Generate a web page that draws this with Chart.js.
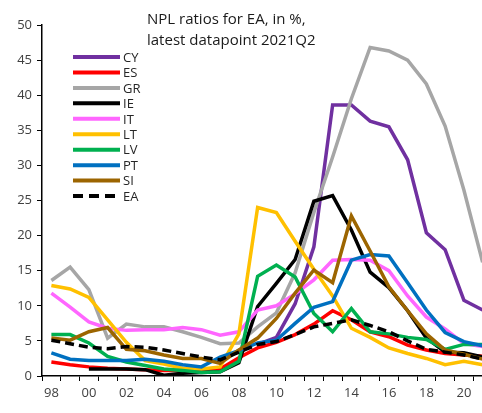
<!DOCTYPE html>
<html>
<head>
<meta charset="utf-8">
<script src="https://cdn.jsdelivr.net/npm/chart.js@4/dist/chart.umd.min.js"></script>
<style>
  html, body { margin: 0; padding: 0; background: #fff; }
  #wrap { position: relative; width: 482px; height: 413px; overflow: hidden; }
  #npl { display: block; }
</style>
</head>
<body>
<div id="wrap"><canvas id="npl" width="492" height="413"></canvas></div>
<script>
// Years 1998..2021, labels shown every other year
const years = ['98','99','00','01','02','03','04','05','06','07','08','09','10','11','12','13','14','15','16','17','18','19','20','21'];
const yTicks = [0, 5, 10, 15, 20, 25, 30, 35, 40, 45, 50];

const cy = [null,null,null,null,null,null,null,null,null,null,null,4.5,5.5,10.3,18.4,38.6,38.6,36.3,35.5,30.8,20.4,18.0,10.8,9.4];
const es = [2.0,1.6,1.3,1.1,1.0,0.9,0.8,0.8,0.8,1.0,2.6,4.0,4.8,5.9,7.4,9.3,8.0,6.3,5.6,4.4,3.7,3.2,3.0,2.8];
const gr = [13.6,15.5,12.3,5.4,7.4,7.0,7.0,6.3,5.5,4.6,4.7,7.0,9.0,14.7,23.3,31.2,39.5,46.8,46.3,45.0,41.6,35.6,26.5,16.2];
const ie = [null,null,1.0,1.0,1.0,0.9,0.1,0.4,0.5,0.6,1.9,9.9,13.2,16.6,24.9,25.7,20.8,14.8,12.6,9.3,5.4,3.4,3.3,2.7];
const it = [11.8,9.8,7.7,6.8,6.5,6.6,6.6,6.9,6.6,5.8,6.3,9.4,10.0,11.7,13.7,16.5,16.6,16.5,15.0,11.4,8.4,6.7,4.6,4.2];
const lt = [12.9,12.4,11.2,8.0,4.8,2.2,1.7,1.1,1.0,1.3,6.0,24.0,23.3,19.2,15.2,11.4,6.8,5.5,4.0,3.2,2.5,1.6,2.1,1.6];
const lv = [5.9,5.9,4.7,2.8,2.0,1.5,1.0,0.8,0.5,0.6,2.1,14.2,15.8,14.1,8.9,6.3,9.6,6.3,6.0,5.5,5.2,3.8,4.5,4.5];
const pt = [3.3,2.4,2.2,2.2,2.2,2.4,2.1,1.6,1.3,2.7,3.6,4.7,5.1,7.5,9.8,10.6,16.5,17.3,17.1,13.3,9.4,6.2,4.9,4.3];
const si = [5.4,5.1,6.3,6.9,3.8,3.6,3.0,2.5,2.5,1.8,3.7,5.4,8.2,11.8,15.1,13.3,22.8,17.8,12.7,9.3,6.0,3.7,3.1,2.4];
const ea = [5.1,4.6,4.1,3.9,4.2,4.1,3.7,3.2,2.7,2.3,3.4,4.5,4.9,5.9,7.0,7.5,8.0,7.2,6.3,5.0,3.8,3.4,3.0,2.4];

const seriesNames = ['CY','ES','GR','IE','IT','LT','LV','PT','SI','EA'];
const seriesData = [cy, es, gr, ie, it, lt, lv, pt, si, ea];
const seriesColors = ['#7030A0','#FF0000','#A6A6A6','#000000','#FF66FF','#FFC000','#00B050','#0070C0','#9C6500','#000000'];

const titleLines = ['NPL ratios for EA, in %,', 'latest datapoint 2021Q2'];
const FONT = "'Open Sans', sans-serif";

// later series painted on top, like the spreadsheet original
const datasets = seriesNames.map((name, i) => ({
    label: name,
    data: seriesData[i],
    borderColor: seriesColors[i],
    backgroundColor: seriesColors[i],
    borderWidth: 3.5,
    borderDash: name === 'EA' ? [9, 5] : [],
    pointRadius: 0,
    tension: 0,
    spanGaps: false,
    order: seriesNames.length - i
}));

// title and legend sit inside the plot area
const overlay = {
    id: 'overlay',
    afterDraw(chart) {
        const ctx = chart.ctx;
        ctx.save();
        ctx.fillStyle = '#1a1a1a';
        ctx.textBaseline = 'middle';
        ctx.textAlign = 'left';
        ctx.font = '15px ' + FONT;
        titleLines.forEach((t, i) => ctx.fillText(t, 147, 20 + i * 21));

        ctx.font = '13px ' + FONT;
        chart.data.datasets.forEach((ds, i) => {
            const y = 57 + i * 15.45;
            ctx.beginPath();
            ctx.strokeStyle = ds.borderColor;
            ctx.lineWidth = 4;
            ctx.setLineDash(ds.label === 'EA' ? [10, 6] : []);
            ctx.moveTo(73, y);
            ctx.lineTo(120, y);
            ctx.stroke();
            ctx.fillStyle = '#262626';
            ctx.fillText(ds.label, 123, y + 1);
        });
        ctx.restore();
    }
};

new Chart(document.getElementById('npl'), {
    type: 'line',
    data: { labels: years, datasets: datasets },
    options: {
        responsive: false,
        animation: false,
        layout: { padding: { top: 25, right: 0, left: 0, bottom: 0 } },
        plugins: { legend: { display: false }, tooltip: { enabled: false } },
        scales: {
            x: {
                type: 'category',
                offset: true,
                grid: { display: true, drawOnChartArea: false, drawTicks: true, tickLength: 5, color: '#000', offset: true },
                border: { color: '#000', width: 1.5 },
                ticks: {
                    autoSkip: false, maxRotation: 0, minRotation: 0,
                    color: '#404040', font: { family: FONT, size: 13 }, padding: 4,
                    callback: (v, i) => (i % 2 === 0 ? years[i] : '')
                },
                afterFit: s => { s.height = 37; }
            },
            y: {
                min: yTicks[0],
                max: yTicks[yTicks.length - 1],
                afterBuildTicks: s => { s.ticks = yTicks.map(v => ({ value: v })); },
                grid: { display: true, drawOnChartArea: false, drawTicks: true, tickLength: 5, color: '#000' },
                border: { color: '#000', width: 1.5 },
                ticks: { color: '#404040', font: { family: FONT, size: 13 }, padding: 5 },
                afterFit: s => { s.width = 42; }
            }
        }
    },
    plugins: [overlay]
});
</script>
</body>
</html>
